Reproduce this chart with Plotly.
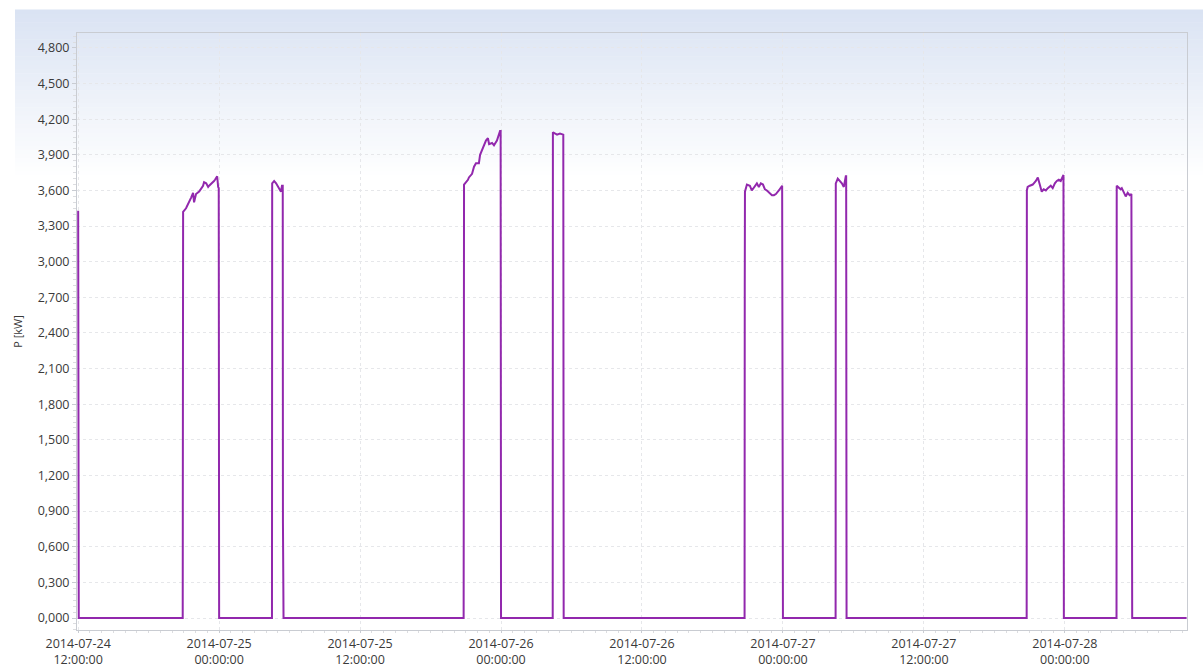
import plotly.graph_objects as go

# ---- data (time stamps and active power in kW) ----
times = [
    "2014-07-24 12:00", "2014-07-24 12:03",
    "2014-07-24 20:54", "2014-07-24 20:55", "2014-07-24 20:56", "2014-07-24 21:11", "2014-07-24 21:27",
    "2014-07-24 21:37", "2014-07-24 21:47", "2014-07-24 21:52", "2014-07-24 22:02", "2014-07-24 22:18",
    "2014-07-24 22:38", "2014-07-24 22:43", "2014-07-24 22:54", "2014-07-24 23:04", "2014-07-24 23:09",
    "2014-07-24 23:24", "2014-07-24 23:34", "2014-07-24 23:39", "2014-07-24 23:50", "2014-07-24 23:55",
    "2014-07-24 23:58", "2014-07-25 00:00",
    "2014-07-25 04:30", "2014-07-25 04:31", "2014-07-25 04:41", "2014-07-25 04:51", "2014-07-25 05:01",
    "2014-07-25 05:11", "2014-07-25 05:16", "2014-07-25 05:21", "2014-07-25 05:25", "2014-07-25 05:26",
    "2014-07-25 05:29",
    "2014-07-25 20:49", "2014-07-25 20:50", "2014-07-25 20:51", "2014-07-25 21:11", "2014-07-25 21:16",
    "2014-07-25 21:32", "2014-07-25 21:42", "2014-07-25 21:52", "2014-07-25 22:07", "2014-07-25 22:13",
    "2014-07-25 22:23", "2014-07-25 22:33", "2014-07-25 22:43", "2014-07-25 22:53", "2014-07-25 22:59",
    "2014-07-25 23:14", "2014-07-25 23:24", "2014-07-25 23:39", "2014-07-25 23:50", "2014-07-25 23:55",
    "2014-07-25 23:58", "2014-07-26 00:00",
    "2014-07-26 04:24", "2014-07-26 04:25", "2014-07-26 04:35", "2014-07-26 04:46", "2014-07-26 05:01",
    "2014-07-26 05:11", "2014-07-26 05:18", "2014-07-26 05:20",
    "2014-07-26 20:44", "2014-07-26 20:45", "2014-07-26 20:46", "2014-07-26 20:56", "2014-07-26 21:11",
    "2014-07-26 21:21", "2014-07-26 21:37", "2014-07-26 21:47", "2014-07-26 21:57", "2014-07-26 22:07",
    "2014-07-26 22:18", "2014-07-26 22:28", "2014-07-26 22:38", "2014-07-26 22:53", "2014-07-26 23:04",
    "2014-07-26 23:14", "2014-07-26 23:24", "2014-07-26 23:39", "2014-07-26 23:50", "2014-07-26 23:56",
    "2014-07-27 00:00",
    "2014-07-27 04:29", "2014-07-27 04:30", "2014-07-27 04:40", "2014-07-27 05:01", "2014-07-27 05:11",
    "2014-07-27 05:21", "2014-07-27 05:23", "2014-07-27 05:25",
    "2014-07-27 20:45", "2014-07-27 20:46", "2014-07-27 20:50", "2014-07-27 21:01", "2014-07-27 21:16",
    "2014-07-27 21:32", "2014-07-27 21:42", "2014-07-27 21:52", "2014-07-27 22:02", "2014-07-27 22:12",
    "2014-07-27 22:23", "2014-07-27 22:33", "2014-07-27 22:48", "2014-07-27 22:58", "2014-07-27 23:09",
    "2014-07-27 23:19", "2014-07-27 23:29", "2014-07-27 23:39", "2014-07-27 23:49", "2014-07-27 23:53",
    "2014-07-27 23:55",
    "2014-07-28 04:24", "2014-07-28 04:25", "2014-07-28 04:35", "2014-07-28 04:45", "2014-07-28 04:51",
    "2014-07-28 05:01", "2014-07-28 05:11", "2014-07-28 05:21", "2014-07-28 05:31", "2014-07-28 05:40",
    "2014-07-28 05:41", "2014-07-28 05:44", "2014-07-28 10:22",
]

p_kw = [
    3.43, 0.0,
    0.0, 2.38, 3.42, 3.45, 3.50,
    3.54, 3.58, 3.50, 3.57, 3.59,
    3.64, 3.67, 3.66, 3.63, 3.64,
    3.66, 3.68, 3.69, 3.72, 3.63,
    3.62, 0.0,
    0.0, 3.66, 3.68, 3.66, 3.63,
    3.60, 3.59, 3.64, 3.64, 0.80,
    0.0,
    0.0, 1.87, 3.65, 3.69, 3.71,
    3.74, 3.80, 3.83, 3.83, 3.90,
    3.94, 3.97, 4.02, 4.04, 3.99,
    4.00, 3.98, 4.02, 4.08, 4.10,
    4.10, 0.0,
    0.0, 4.09, 4.08, 4.07, 4.08,
    4.07, 4.07, 0.0,
    0.0, 2.82, 3.59, 3.65, 3.64,
    3.60, 3.64, 3.66, 3.63, 3.66,
    3.65, 3.61, 3.60, 3.58, 3.56,
    3.56, 3.57, 3.60, 3.63, 3.64,
    0.0,
    0.0, 3.66, 3.70, 3.66, 3.63,
    3.72, 3.72, 0.0,
    0.0, 3.60, 3.63, 3.64, 3.65,
    3.68, 3.71, 3.65, 3.59, 3.61,
    3.60, 3.62, 3.64, 3.62, 3.66,
    3.68, 3.69, 3.68, 3.72, 3.73,
    0.0,
    0.0, 3.64, 3.62, 3.61, 3.62,
    3.59, 3.55, 3.58, 3.56, 3.57,
    0.95, 0.0, 0.0,
]

x_range = ["2014-07-24 11:54", "2014-07-28 10:24"]
y_range = [-0.101, 4.926]
y_title = "P [kW]"

# ---- figure ----
W, H = 1203, 668
L, R, T, B = 77, 16, 33, 38
pw, ph = W - L - R, H - T - B

fig = go.Figure()
fig.add_trace(go.Scatter(
    x=times, y=p_kw, mode="lines",
    line=dict(color="#9228ad", width=2),
    showlegend=False, hoverinfo="x+y",
))

# background gradient (light blue at the top fading to white)
top_px, bot_px, left_px = 10, 180, 15
n = 40
c0 = (218, 227, 243)
shapes = []
for i in range(n):
    y0p = top_px + (bot_px - top_px) * i / n
    y1p = top_px + (bot_px - top_px) * (i + 1) / n
    f = i / (n - 1)
    col = tuple(round(c + (255 - c) * f) for c in c0)
    shapes.append(dict(
        type="rect", xref="paper", yref="paper", layer="below",
        x0=(left_px - L) / pw, x1=(W - L) / pw + 0.01,
        y0=(H - B - y1p) / ph, y1=(H - B - y0p) / ph + 0.001,
        fillcolor="rgb(%d,%d,%d)" % col, line=dict(width=0),
    ))

font_family = "Open Sans, Noto Sans, DejaVu Sans, sans-serif"
axis_col = "#c9ccd2"
grid_col = "#e6e7ea"

fig.update_layout(
    width=W, height=H,
    margin=dict(l=L, r=R, t=T, b=B, pad=0),
    paper_bgcolor="white",
    plot_bgcolor="rgba(0,0,0,0)",
    separators=",.",
    font=dict(family=font_family, size=12.5, color="#3a3a3a"),
    shapes=shapes,
    xaxis=dict(
        type="date", range=x_range,
        tick0="2014-07-24 12:00", dtick=12 * 3600 * 1000,
        tickformat="%Y-%m-%d<br>%H:%M:%S",
        showgrid=True, gridcolor=grid_col, griddash="dot", gridwidth=1,
        showline=True, linecolor=axis_col, linewidth=1, mirror=True,
        ticks="outside", ticklen=2, tickcolor=axis_col,
        minor=dict(dtick=3600 * 1000, ticks="outside", ticklen=2,
                   tickcolor="#dcdde0", showgrid=False),
        zeroline=False, automargin=False,
        tickfont=dict(size=12.5, color="#3a3a3a"),
    ),
    yaxis=dict(
        range=y_range, tick0=0, dtick=0.3, tickformat=".3f",
        showgrid=True, gridcolor=grid_col, griddash="dot", gridwidth=1,
        showline=True, linecolor=axis_col, linewidth=1, mirror=True,
        ticks="outside", ticklen=4, tickcolor=axis_col,
        minor=dict(dtick=0.05, ticks="outside", ticklen=3,
                   tickcolor="#dcdde0", showgrid=False),
        zeroline=False, automargin=False,
        title=dict(text=y_title, font=dict(size=11, color="#3a3a3a"), standoff=12),
        tickfont=dict(size=12.5, color="#3a3a3a"),
    ),
)

# remove the default page margin so the figure sits at the window's top-left corner
fig.write_html(
    "out.html",
    config={"displayModeBar": False},
    post_script="document.body.style.margin='0';",
)
